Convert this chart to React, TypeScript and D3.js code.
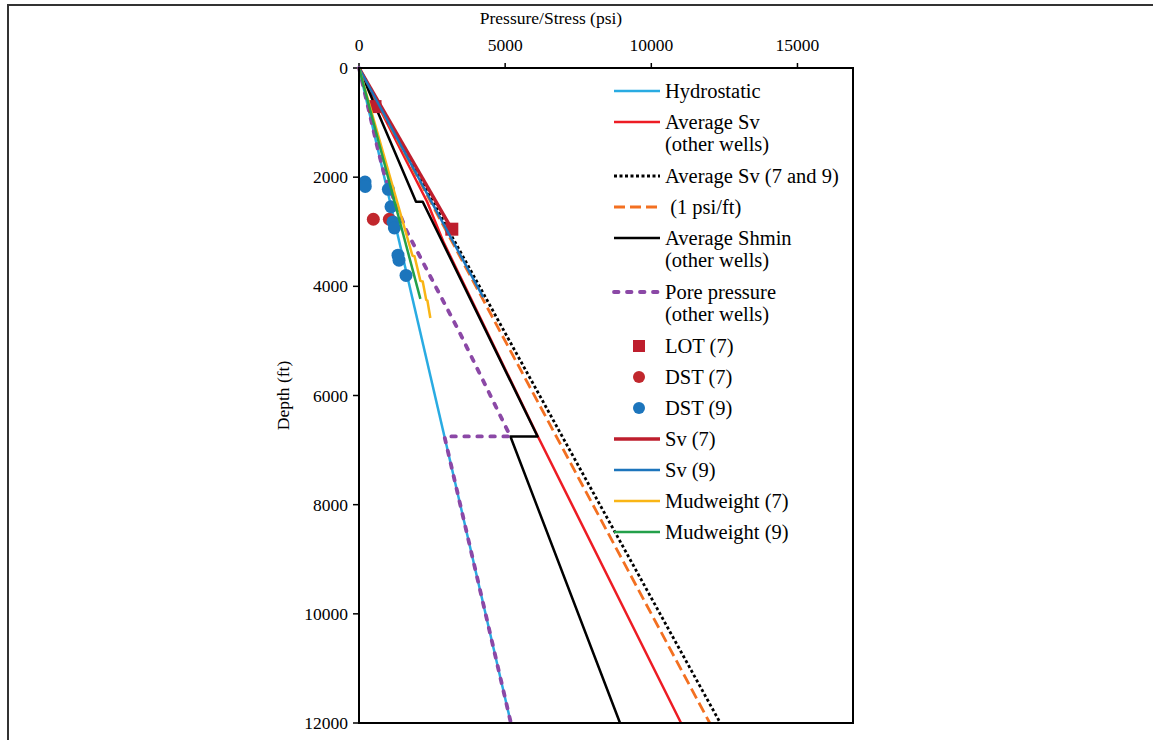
import { FC, useMemo } from 'react';
import * as d3 from 'd3';

type Pt = { p: number; d: number };

// tick values
const psiTicks = [0, 5000, 10000, 15000];
const depthTicks = [0, 2000, 4000, 6000, 8000, 10000, 12000];

// series (psi, ft)
const hydrostatic: Pt[] = [{ p: 0, d: 0 }, { p: 5196, d: 12000 }];
const avgSvOther: Pt[] = [
  { p: 0, d: 0 }, { p: 2330, d: 2450 }, { p: 2900, d: 3200 }, { p: 6120, d: 6750 }, { p: 11017, d: 12000 },
];
const avgSv79: Pt[] = [{ p: 0, d: 0 }, { p: 12360, d: 12000 }];
const onePsiFt: Pt[] = [{ p: 0, d: 0 }, { p: 12000, d: 12000 }];
const avgShmin: Pt[] = [
  { p: 0, d: 0 }, { p: 1950, d: 2450 }, { p: 2180, d: 2450 }, { p: 6110, d: 6750 },
  { p: 5180, d: 6750 }, { p: 8930, d: 12000 },
];
const porePressure: Pt[] = [
  { p: 0, d: 0 }, { p: 650, d: 1500 }, { p: 890, d: 2000 }, { p: 1640, d: 3000 }, { p: 3400, d: 4800 },
  { p: 5180, d: 6750 }, { p: 2923, d: 6750 }, { p: 5196, d: 12000 },
];
const lot7: Pt[] = [{ p: 548, d: 707 }, { p: 3175, d: 2953 }];
const dst7: Pt[] = [{ p: 490, d: 2771 }, { p: 1038, d: 2771 }];
const dst9: Pt[] = [
  { p: 205, d: 2090 }, { p: 215, d: 2170 }, { p: 1004, d: 2222 }, { p: 1095, d: 2540 }, { p: 1163, d: 2820 },
  { p: 1210, d: 2930 }, { p: 1334, d: 3430 }, { p: 1368, d: 3520 }, { p: 1608, d: 3800 },
];
const sv7: Pt[] = [{ p: 0, d: 0 }, { p: 3175, d: 2953 }];
const sv9: Pt[] = [{ p: 0, d: 0 }, { p: 4250, d: 4200 }];
const mud7: Pt[] = [
  { p: 0, d: 0 }, { p: 1830, d: 3440 }, { p: 1900, d: 3450 }, { p: 2100, d: 3900 }, { p: 2180, d: 3910 },
  { p: 2300, d: 4250 }, { p: 2340, d: 4260 }, { p: 2440, d: 4580 },
];
const mud9: Pt[] = [{ p: 0, d: 0 }, { p: 2100, d: 4230 }];

const legendLabels = [
  ['Hydrostatic'],
  ['Average Sv', '(other wells)'],
  ['Average Sv (7 and 9)'],
  [' (1 psi/ft)'],
  ['Average Shmin', '(other wells)'],
  ['Pore pressure', '(other wells)'],
  ['LOT (7)'],
  ['DST (7)'],
  ['DST (9)'],
  ['Sv (7)'],
  ['Sv (9)'],
  ['Mudweight (7)'],
  ['Mudweight (9)'],
];

type Style = { kind: 'line' | 'square' | 'circle'; color: string; width?: number; dash?: string; cap?: string };
const styles: Style[] = [
  { kind: 'line', color: '#29ABE2', width: 2.5 },
  { kind: 'line', color: '#ED1C24', width: 2.5 },
  { kind: 'line', color: '#000000', width: 2.8, dash: '3,2.5' },
  { kind: 'line', color: '#F37021', width: 2.8, dash: '11,5' },
  { kind: 'line', color: '#000000', width: 2.5 },
  { kind: 'line', color: '#8B48A6', width: 3.8, dash: '4.5,8.5', cap: 'round' },
  { kind: 'square', color: '#BE1E2D' },
  { kind: 'circle', color: '#C1272D' },
  { kind: 'circle', color: '#1C75BC' },
  { kind: 'line', color: '#BE1E2D', width: 3.5 },
  { kind: 'line', color: '#1C75BC', width: 2.5 },
  { kind: 'line', color: '#F9B515', width: 2.5 },
  { kind: 'line', color: '#23A04A', width: 2.5 },
];
const seriesData = [
  hydrostatic, avgSvOther, avgSv79, onePsiFt, avgShmin, porePressure,
  lot7, dst7, dst9, sv7, sv9, mud7, mud9,
];

const PLOT = { left: 359, right: 853, top: 68, bottom: 723 };
const FONT = '"Liberation Serif", "Times New Roman", serif';

const App: FC = () => {
  const xScale = useMemo(
    () => d3.scaleLinear().domain([0, 16900]).range([PLOT.left, PLOT.right]),
    []
  );
  const yScale = useMemo(
    () => d3.scaleLinear().domain([0, 12000]).range([PLOT.top, PLOT.bottom]),
    []
  );
  const lineBuilder = d3
    .line<Pt>()
    .x((d) => xScale(d.p))
    .y((d) => yScale(d.d));

  // legend rows: 31px per row, +23px for a second text line
  let rowY = 91;
  const legendRows = legendLabels.map((lines) => {
    const y = rowY;
    rowY += 31 + (lines.length - 1) * 23;
    return y;
  });

  return (
    <svg width={1153} height={740} style={{ position: 'absolute', left: 0, top: 0, background: '#fff' }} fontFamily={FONT}>
      <rect x={8} y={5} width={1160} height={760} fill="#fff" stroke="#333" strokeWidth={2} />

      <text x={551} y={24} fontSize={17.5} textAnchor="middle">Pressure/Stress (psi)</text>
      <text transform={`translate(289,${(PLOT.top + PLOT.bottom) / 2}) rotate(-90)`} fontSize={17.5} textAnchor="middle">
        Depth (ft)
      </text>

      {psiTicks.map((t) => (
        <g key={`x${t}`}>
          <line x1={xScale(t)} x2={xScale(t)} y1={PLOT.top} y2={PLOT.top - 5} stroke="#000" strokeWidth={1.5} />
          <text x={xScale(t)} y={51} fontSize={17.5} textAnchor="middle">{t}</text>
        </g>
      ))}
      {depthTicks.map((t) => (
        <g key={`y${t}`}>
          <line x1={PLOT.left} x2={PLOT.left - 6} y1={yScale(t)} y2={yScale(t)} stroke="#000" strokeWidth={1.5} />
          <text x={348} y={yScale(t)} dy="0.35em" fontSize={17.5} textAnchor="end">{t}</text>
        </g>
      ))}

      <g>
        {seriesData.map((data, i) => {
          const s = styles[i];
          if (s.kind === 'line') {
            return (
              <path key={i} d={lineBuilder(data) || ''} fill="none" stroke={s.color}
                strokeWidth={s.width} strokeDasharray={s.dash} strokeLinecap={s.cap as any} strokeLinejoin="round" />
            );
          }
          if (s.kind === 'square') {
            return data.map((pt, j) => (
              <rect key={`${i}-${j}`} x={xScale(pt.p) - 6.5} y={yScale(pt.d) - 6.5} width={13} height={13} fill={s.color} />
            ));
          }
          return data.map((pt, j) => (
            <circle key={`${i}-${j}`} cx={xScale(pt.p)} cy={yScale(pt.d)} r={6.5} fill={s.color} />
          ));
        })}
      </g>

      <rect x={PLOT.left} y={PLOT.top} width={PLOT.right - PLOT.left} height={PLOT.bottom - PLOT.top}
        fill="none" stroke="#000" strokeWidth={2} />

      <g>
        {legendLabels.map((lines, i) => {
          const s = styles[i];
          const y = legendRows[i];
          return (
            <g key={`lg${i}`}>
              {s.kind === 'line' && (
                <line x1={614} x2={660} y1={y} y2={y} stroke={s.color} strokeWidth={s.width}
                  strokeDasharray={s.dash} strokeLinecap={s.cap as any} />
              )}
              {s.kind === 'square' && <rect x={633} y={y - 6} width={12} height={12} fill={s.color} />}
              {s.kind === 'circle' && <circle cx={639} cy={y} r={6} fill={s.color} />}
              {lines.map((ln, k) => (
                <text key={k} x={665} y={y + k * 22} dy="0.35em" fontSize={20.5} style={{ whiteSpace: 'pre' }}>{ln}</text>
              ))}
            </g>
          );
        })}
      </g>
    </svg>
  );
};

export default App;
